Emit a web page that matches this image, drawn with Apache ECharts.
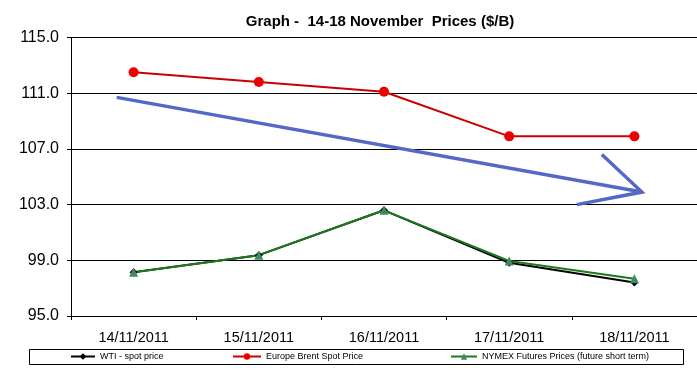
<!DOCTYPE html>
<html>
<head>
<meta charset="utf-8">
<script src="https://cdn.jsdelivr.net/npm/echarts@6/dist/echarts.min.js"></script>
<style>html,body{margin:0;padding:0;background:#fff;}#c{width:697px;height:370px;}</style>
</head>
<body>
<div id="c"></div>
<script>
const categories = ['14/11/2011','15/11/2011','16/11/2011','17/11/2011','18/11/2011'];
const wti = [98.14, 99.37, 102.59, 98.82, 97.41];
const brent = [112.5, 111.8, 111.1, 107.9, 107.9];
const nymex = [98.14, 99.37, 102.59, 98.95, 97.67];
const yTicks = [95, 99, 103, 107, 111, 115];
// trend arrow annotation, in (category position, price) units
const arrowShaft = [[-0.135, 110.7], [4.06, 103.9]];
const arrowHead = [[3.74, 106.6], [4.06, 103.9], [3.54, 103.0]];

const chart = echarts.init(document.getElementById('c'));
const legendText = {color:'#000', fontFamily:'Liberation Sans', fontSize:9};
chart.setOption({
  animation:false,
  backgroundColor:'#fff',
  title:{text:'Graph -  14-18 November  Prices ($/B)', left:375, top:9, textAlign:'center',
    textStyle:{fontFamily:'Liberation Sans', fontWeight:'bold', fontSize:15, color:'#000'}},
  grid:{left:71, top:37.5, width:630, height:278.5},
  xAxis:[{type:'category', data:categories, boundaryGap:true,
    axisLine:{lineStyle:{color:'#000', width:1}},
    axisTick:{show:true, length:4, lineStyle:{color:'#000'}},
    axisLabel:{color:'#000', fontFamily:'Liberation Sans', fontSize:14.5, margin:14}},
   {type:'value', min:-0.5, max:4.5, show:false}],
  yAxis:{type:'value', min:yTicks[0], max:yTicks[yTicks.length-1], interval:4,
    axisLine:{show:true, onZero:false, lineStyle:{color:'#000'}},
    axisTick:{show:true, length:4, lineStyle:{color:'#000'}},
    axisLabel:{color:'#000', fontFamily:'Liberation Sans', fontSize:16, margin:12,
      formatter:v=>v.toFixed(1)},
    splitLine:{show:true, lineStyle:{color:'#000', width:1}}},
  legend:[
    {data:['WTI - spot price'], left:70, top:352, itemWidth:24, itemHeight:8, itemGap:4, padding:0, textStyle:legendText},
    {data:['Europe Brent Spot Price'], left:232, top:352, itemWidth:28, itemHeight:8, padding:0, textStyle:legendText},
    {data:['NYMEX Futures Prices (future short term)'], left:450, top:352, itemWidth:26, itemHeight:8, padding:0, textStyle:legendText}
  ],
  graphic:[{type:'rect', shape:{x:29.5, y:349.5, width:654, height:15}, style:{fill:'none', stroke:'#000', lineWidth:1}}],
  series:[
    {name:'WTI - spot price', type:'line', data:wti, symbol:'diamond', symbolSize:8,
      lineStyle:{color:'#000', width:2}, itemStyle:{color:'#000'}},
    {name:'Europe Brent Spot Price', type:'line', data:brent, symbol:'circle', symbolSize:10,
      lineStyle:{color:'#cc0000', width:2}, itemStyle:{color:'#ee0000'}},
    {name:'NYMEX Futures Prices (future short term)', type:'line', data:nymex, symbol:'triangle', symbolSize:9,
      lineStyle:{color:'#1c7a1c', width:2}, itemStyle:{color:'#3f8a60'}},
    {name:'arrow1', type:'line', xAxisIndex:1, data:arrowShaft, symbol:'none', silent:true,
      lineStyle:{color:'#5468c8', width:3.5}},
    {name:'arrow2', type:'line', xAxisIndex:1, data:arrowHead, symbol:'none', silent:true,
      lineStyle:{color:'#5468c8', width:3.5, join:'miter'}}
  ]
});
</script>
</body>
</html>
